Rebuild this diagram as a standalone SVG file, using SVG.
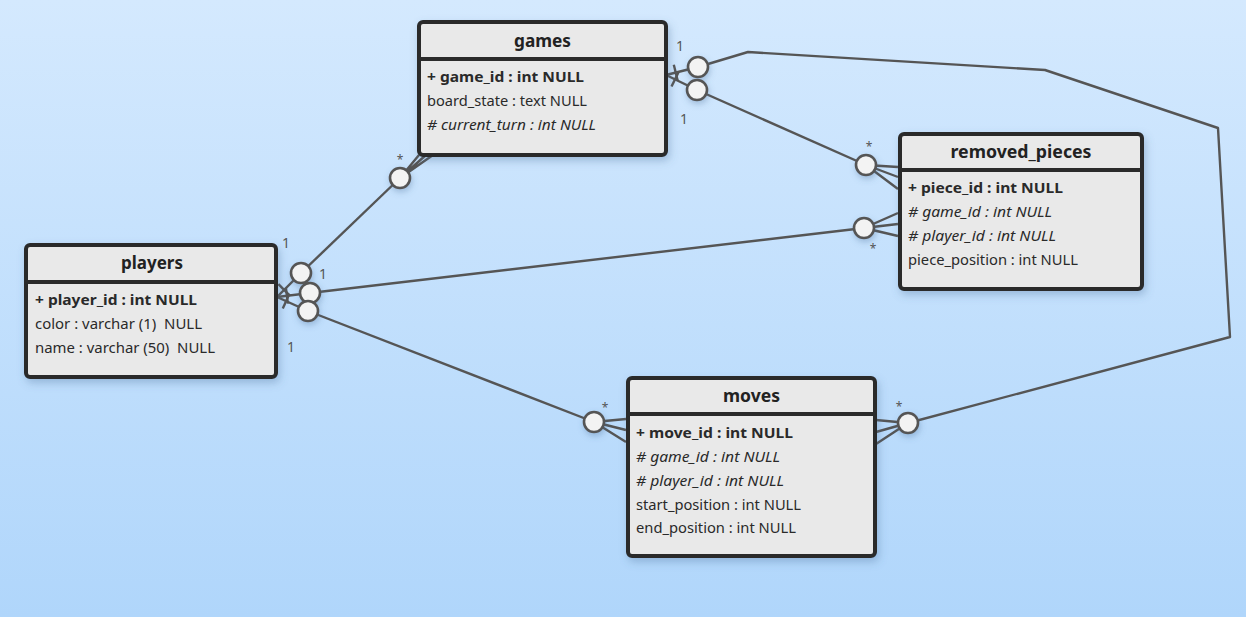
<svg xmlns="http://www.w3.org/2000/svg" width="1246" height="617" viewBox="0 0 1246 617">
<defs>
<linearGradient id="bg" x1="0" y1="0" x2="0" y2="1">
<stop offset="0" stop-color="#d4e9fe"/>
<stop offset="1" stop-color="#b0d6fb"/>
</linearGradient>
<filter id="sh" x="-10%" y="-10%" width="130%" height="140%">
<feDropShadow dx="2" dy="4" stdDeviation="4" flood-color="#4a6f99" flood-opacity="0.35"/>
</filter>
<filter id="csh" x="-50%" y="-50%" width="200%" height="200%">
<feDropShadow dx="1" dy="3" stdDeviation="3" flood-color="#4a6f99" flood-opacity="0.35"/>
</filter>
<style>
.box{fill:#e9e9e9;stroke:#2b2b2b;stroke-width:4}
.div{stroke:#2b2b2b;stroke-width:4}
.title{font-family:"Noto Sans","Open Sans",sans-serif;font-size:18px;font-weight:bold;fill:#222;text-anchor:middle}
.row{font-family:"Noto Sans","Open Sans",sans-serif;font-size:15px;fill:#2a2a2a}
.pk{font-weight:bold}
.fk{font-style:italic}
.ln{fill:none;stroke:#555;stroke-width:2.4;stroke-linejoin:round}
.cir{fill:#f3f3f3;stroke:#555;stroke-width:2.6}
.lbl{font-family:"Noto Sans","Open Sans",sans-serif;font-size:14px;fill:#555;text-anchor:middle}
.star{font-family:"Noto Sans","Open Sans",sans-serif;font-size:12px;fill:#555;text-anchor:middle}
</style>
</defs>
<rect width="1246" height="617" fill="url(#bg)"/>

<g id="connectors">
<!-- players - games -->
<line class="ln" x1="277" y1="297" x2="301" y2="273"/>
<line class="ln" x1="278.4" y1="284.2" x2="289.8" y2="295.6"/>
<line class="ln" x1="301" y1="273" x2="400" y2="178"/>
<path class="ln" d="M400,178 L419,155 M400,178 L426,155 M400,178 L433,155"/>
<!-- players - removed_pieces -->
<line class="ln" x1="277" y1="297" x2="310" y2="293"/>
<line class="ln" x1="285.9" y1="287.9" x2="287.9" y2="303.7"/>
<line class="ln" x1="310" y1="293" x2="864" y2="228"/>
<path class="ln" d="M864,228 L898,213 M864,228 L898,224 M864,228 L898,236"/>
<!-- players - moves -->
<line class="ln" x1="277" y1="297" x2="308" y2="311"/>
<line class="ln" x1="289.4" y1="293.8" x2="282.8" y2="308.4"/>
<line class="ln" x1="308" y1="311" x2="594" y2="422"/>
<path class="ln" d="M594,422 L626,419 M594,422 L626,430 M594,422 L626,442"/>
<!-- games - removed_pieces -->
<line class="ln" x1="666" y1="75" x2="697" y2="90"/>
<line class="ln" x1="678.5" y1="72.2" x2="671.5" y2="86.6"/>
<line class="ln" x1="697" y1="90" x2="866" y2="165"/>
<path class="ln" d="M866,165 L898,167 M866,165 L898,177 M866,165 L898,189"/>
<!-- games - moves -->
<line class="ln" x1="666" y1="75" x2="698" y2="67"/>
<line class="ln" x1="673.8" y1="64.8" x2="677.6" y2="80.4"/>
<polyline class="ln" points="698,67 748,52 1045,70 1218,128 1230,337 908,423"/>
<path class="ln" d="M908,423 L876,420 M908,423 L876,432 M908,423 L876,444"/>

<g filter="url(#csh)">
<circle class="cir" cx="301" cy="273" r="10"/>
<circle class="cir" cx="310" cy="293" r="10"/>
<circle class="cir" cx="308" cy="311" r="10"/>
<circle class="cir" cx="400" cy="178" r="10"/>
<circle class="cir" cx="864" cy="228" r="10"/>
<circle class="cir" cx="594" cy="422" r="10"/>
<circle class="cir" cx="697" cy="90" r="10"/>
<circle class="cir" cx="866" cy="165" r="10"/>
<circle class="cir" cx="698" cy="67" r="10"/>
<circle class="cir" cx="908" cy="423" r="10"/>
</g>

<text class="lbl" x="680" y="51">1</text>
<text class="lbl" x="684" y="124">1</text>
<text class="lbl" x="286" y="248">1</text>
<text class="lbl" x="323" y="279">1</text>
<text class="lbl" x="291" y="352">1</text>
<text class="star" x="400" y="164">*</text>
<text class="star" x="869" y="151">*</text>
<text class="star" x="873" y="253">*</text>
<text class="star" x="605" y="412">*</text>
<text class="star" x="899" y="411">*</text>
</g>

<g id="games">
<rect class="box" x="419" y="22" width="247" height="133" rx="4" filter="url(#sh)"/>
<line class="div" x1="419" y1="59" x2="666" y2="59"/>
<text class="title" x="542.5" y="47" textLength="57" lengthAdjust="spacingAndGlyphs">games</text>
<text class="row pk" x="427" y="82" textLength="157" lengthAdjust="spacingAndGlyphs">+ game_id : int NULL</text>
<text class="row" x="427" y="106" textLength="160" lengthAdjust="spacingAndGlyphs">board_state : text NULL</text>
<text class="row fk" x="427" y="130" textLength="169" lengthAdjust="spacingAndGlyphs"># current_turn : int NULL</text>
</g>

<g id="players">
<rect class="box" x="26" y="245" width="250" height="132" rx="4" filter="url(#sh)"/>
<line class="div" x1="26" y1="282" x2="276" y2="282"/>
<text class="title" x="152" y="269" textLength="62" lengthAdjust="spacingAndGlyphs">players</text>
<text class="row pk" x="35" y="305" textLength="162" lengthAdjust="spacingAndGlyphs">+ player_id : int NULL</text>
<text class="row" x="35" y="329" xml:space="preserve" textLength="167" lengthAdjust="spacingAndGlyphs">color : varchar (1)  NULL</text>
<text class="row" x="35" y="353" xml:space="preserve" textLength="180" lengthAdjust="spacingAndGlyphs">name : varchar (50)  NULL</text>
</g>

<g id="removed_pieces">
<rect class="box" x="900" y="134" width="242" height="155" rx="4" filter="url(#sh)"/>
<line class="div" x1="900" y1="170" x2="1142" y2="170"/>
<text class="title" x="1021" y="158" textLength="141" lengthAdjust="spacingAndGlyphs">removed_pieces</text>
<text class="row pk" x="908" y="193" textLength="155" lengthAdjust="spacingAndGlyphs">+ piece_id : int NULL</text>
<text class="row fk" x="908" y="217" textLength="144" lengthAdjust="spacingAndGlyphs"># game_id : int NULL</text>
<text class="row fk" x="908" y="241" textLength="148" lengthAdjust="spacingAndGlyphs"># player_id : int NULL</text>
<text class="row" x="908" y="265" textLength="170" lengthAdjust="spacingAndGlyphs">piece_position : int NULL</text>
</g>

<g id="moves">
<rect class="box" x="628" y="378" width="247" height="178" rx="4" filter="url(#sh)"/>
<line class="div" x1="628" y1="414" x2="875" y2="414"/>
<text class="title" x="751.5" y="402" textLength="57" lengthAdjust="spacingAndGlyphs">moves</text>
<text class="row pk" x="636" y="438" textLength="157" lengthAdjust="spacingAndGlyphs">+ move_id : int NULL</text>
<text class="row fk" x="636" y="462" textLength="144" lengthAdjust="spacingAndGlyphs"># game_id : int NULL</text>
<text class="row fk" x="636" y="486" textLength="148" lengthAdjust="spacingAndGlyphs"># player_id : int NULL</text>
<text class="row" x="636" y="510" textLength="165" lengthAdjust="spacingAndGlyphs">start_position : int NULL</text>
<text class="row" x="636" y="533" textLength="160" lengthAdjust="spacingAndGlyphs">end_position : int NULL</text>
</g>
</svg>
